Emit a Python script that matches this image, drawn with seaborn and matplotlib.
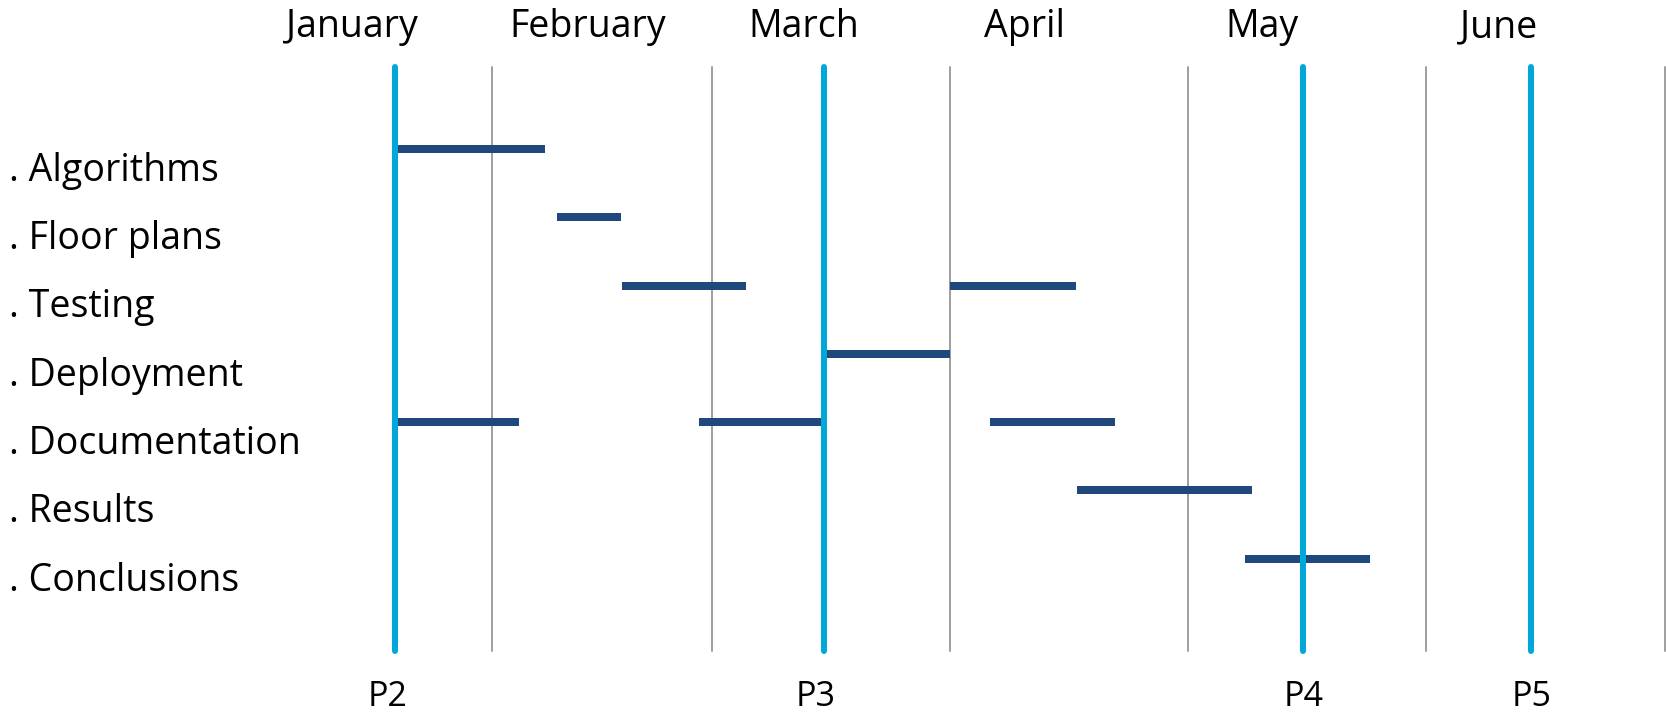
import matplotlib
matplotlib.use("Agg")
import matplotlib.pyplot as plt
import numpy as np
import pandas as pd
import seaborn as sns

# Tasks (top to bottom) and their work segments, in days from the P2 milestone
tasks = ["Algorithms", "Floor plans", "Testing", "Deployment",
         "Documentation", "Results", "Conclusions"]
seg_task = ["Algorithms", "Floor plans", "Testing", "Testing", "Deployment",
            "Documentation", "Documentation", "Documentation", "Results",
            "Conclusions"]
seg_start = [0, 20.5, 28.6, 70.0, 54.1, 0, 38.3, 75.0, 86.0, 107.2]
seg_end = [19.0, 28.5, 44.3, 85.8, 70.0, 15.7, 54.1, 90.8, 108.0, 122.9]

# Milestones (lines) and where their captions sit
milestone_labels = ["P2", "P3", "P4", "P5"]
milestone_days = [0, 54.1, 114.4, 143.2]
milestone_label_days = [-0.85, 53.1, 114.5, 143.3]

# Month headings and period grid
months = ["January", "February", "March", "April", "May", "June"]
month_days = [-5.4, 24.3, 51.5, 79.4, 109.3, 139.1]
grid_days = [12.3, 40, 70, 100, 130, 160]

BAR = "#1F497D"
MILESTONE = "#00A8D8"
GRID = "#A0A0A0"

sns.set_theme(style="white")
plt.rcParams["font.family"] = ["Open Sans", "DejaVu Sans"]

W, H = 1666, 715
fig = plt.figure(figsize=(W / 100, H / 100), dpi=100)
fig.patch.set_facecolor("white")
left_px, right_px, top_px, bot_px = 339.1, 1665.3, 67.3, 650.7
ax = fig.add_axes([left_px / W, (H - bot_px) / H,
                   (right_px - left_px) / W, (bot_px - top_px) / H])

# Long-form table: each segment is a two-point line
bar_shift = -0.256
rows = []
for i, (t, s, e) in enumerate(zip(seg_task, seg_start, seg_end)):
    r = tasks.index(t) + bar_shift
    rows.append({"seg": i, "day": s, "row": r})
    rows.append({"seg": i, "day": e, "row": r})
df = pd.DataFrame(rows)

for g in grid_days:
    ax.axvline(g, color=GRID, lw=1.44, zorder=1, clip_on=False)

sns.lineplot(data=df, x="day", y="row", units="seg", estimator=None,
             sort=False, color=BAR, lw=8 * 0.72, solid_capstyle="butt",
             legend=False, ax=ax, zorder=2)

for m in milestone_days:
    ax.axvline(m, color=MILESTONE, lw=6 * 0.72, zorder=3, clip_on=False)

ax.set_xlim(-7, 160.1)
ax.set_ylim(7.094, -1.453)
ax.set_xlabel("")
ax.set_ylabel("")

ax.set_yticks(range(len(tasks)), labels=[". " + t for t in tasks])
ax.tick_params(axis="y", length=0, pad=330 * 0.72, labelsize=27,
               labelcolor="black")
for lab in ax.get_yticklabels():
    lab.set_horizontalalignment("left")

ax.set_xticks(milestone_label_days, labels=milestone_labels)
ax.tick_params(axis="x", length=0, pad=29 * 0.72, labelsize=24.5,
               labelcolor="black")

top = ax.secondary_xaxis("top")
top.set_xticks(month_days, labels=months)
top.tick_params(length=0, pad=21 * 0.72, labelsize=27, labelcolor="black")
for sp in top.spines.values():
    sp.set_visible(False)

for sp in ax.spines.values():
    sp.set_visible(False)
ax.grid(False)

fig.savefig("out.png", dpi=100, facecolor="white")
